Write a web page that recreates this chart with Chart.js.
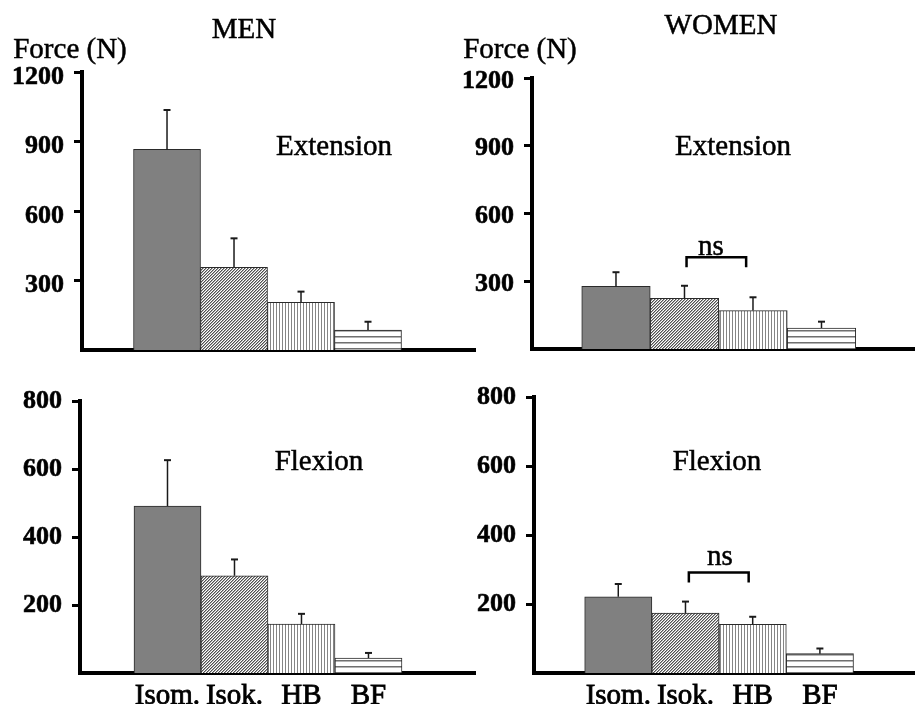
<!DOCTYPE html>
<html><head><meta charset="utf-8">
<script src="https://cdn.jsdelivr.net/npm/chart.js@4"></script>
<style>
html,body{margin:0;padding:0;background:#fff;}
#wrap{position:relative;width:915px;height:704px;overflow:hidden;background:#fff;}
canvas{position:absolute;left:0;top:0;}
.t{position:absolute;font-family:'Liberation Serif',serif;font-size:29px;color:#000;-webkit-text-stroke:0.5px #000;line-height:1;white-space:nowrap;transform:translate(-50%,-50%);}
</style></head><body>
<div id="wrap">
<canvas id="c0" width="915" height="704"></canvas>
<canvas id="c1" width="915" height="704"></canvas>
<canvas id="c2" width="915" height="704"></canvas>
<canvas id="c3" width="915" height="704"></canvas>
<div class="t" style="left:244px;top:28px">MEN</div>
<div class="t" style="left:721px;top:24px">WOMEN</div>
<div class="t" style="left:70px;top:48px">Force (N)</div>
<div class="t" style="left:520px;top:48px">Force (N)</div>
<div class="t" style="left:334px;top:145px">Extension</div>
<div class="t" style="left:733px;top:145px">Extension</div>
<div class="t" style="left:319px;top:460px">Flexion</div>
<div class="t" style="left:717px;top:460px">Flexion</div>
<div class="t" style="left:711px;top:245px">ns</div>
<div class="t" style="left:720px;top:555px">ns</div>
</div>
<script>
const categories = ['Isom.', 'Isok.', 'HB', 'BF'];
const extensionTicks = [300, 600, 900, 1200];
const flexionTicks = [200, 400, 600, 800];
const menExtension = [866, 357, 206, 86];
const menExtensionSD = [170, 125, 46, 36];
const womenExtension = [277, 224, 170, 93];
const womenExtensionSD = [63, 56, 59, 28];
const menFlexion = [491, 286, 144, 44];
const menFlexionSD = [135, 48, 30, 15];
const womenFlexion = [221, 174, 141, 56];
const womenFlexionSD = [37, 33, 22, 15];
const nsWomenExtension = [1.03, 1.9, 406];
const nsWomenFlexion = [1.05, 1.94, 291];

function makePattern(w, h, draw) {
  const c = document.createElement('canvas');
  c.width = w; c.height = h;
  const x = c.getContext('2d');
  x.fillStyle = '#fff'; x.fillRect(0, 0, w, h);
  draw(x);
  return x.createPattern(c, 'repeat');
}
const isokFill = makePattern(3, 3, x => {
  x.fillStyle = '#505050';
  x.fillRect(0, 2, 1, 1); x.fillRect(1, 1, 1, 1); x.fillRect(2, 0, 1, 1);
  x.fillStyle = '#a8a8a8';
  x.fillRect(1, 2, 1, 1); x.fillRect(2, 1, 1, 1); x.fillRect(0, 0, 1, 1);
});
const hbFill = makePattern(3, 1, x => { x.fillStyle = '#858585'; x.fillRect(0, 0, 1, 1); });
const bfFill = makePattern(1, 6, x => {
  x.fillStyle = '#707070'; x.fillRect(0, 0, 1, 1);
  x.fillStyle = '#b4b4b4'; x.fillRect(0, 1, 1, 1);
});
const fills = ['#808080', isokFill, hbFill, bfFill];

const annotPlugin = {
  id: 'annot',
  afterDatasetsDraw(chart) {
    const ctx = chart.ctx;
    const ys = chart.scales.y, xs = chart.scales.x;
    const ds = chart.data.datasets[0];
    const meta = chart.getDatasetMeta(0);
    ctx.save();
    ctx.strokeStyle = '#1a1a1a';
    meta.data.forEach((bar, i) => {
      const v = ds.data[i].y;
      const top = ys.getPixelForValue(v + ds.errors[i]);
      ctx.lineWidth = 1.5;
      ctx.beginPath(); ctx.moveTo(bar.x, bar.y); ctx.lineTo(bar.x, top); ctx.stroke();
      ctx.lineWidth = 2;
      ctx.beginPath(); ctx.moveTo(bar.x - 3.5, top); ctx.lineTo(bar.x + 3.5, top); ctx.stroke();
    });
    const ns = ds.ns;
    if (ns) {
      const x1 = xs.getPixelForValue(ns[0]), x2 = xs.getPixelForValue(ns[1]);
      const yy = ys.getPixelForValue(ns[2]);
      ctx.strokeStyle = '#000';
      ctx.lineWidth = 2.5;
      ctx.beginPath();
      ctx.moveTo(x1, yy + 10); ctx.lineTo(x1, yy); ctx.lineTo(x2, yy); ctx.lineTo(x2, yy + 10);
      ctx.stroke();
    }
    ctx.restore();
  }
};

function makePanel(id, cfg) {
  const YW = 70, XH = cfg.showX ? 40 : 0;
  new Chart(document.getElementById(id), {
    type: 'bar',
    data: {
      datasets: [{
        data: cfg.values.map((v, i) => ({ x: i, y: v })),
        errors: cfg.errors,
        ns: cfg.ns,
        backgroundColor: fills,
        borderColor: '#2a2a2a',
        borderWidth: 1,
        categoryPercentage: 1,
        barPercentage: 1
      }]
    },
    options: {
      responsive: false, animation: false, devicePixelRatio: 1, events: [],
      layout: { padding: { left: cfg.L - YW, right: 915 - cfg.R, top: cfg.T, bottom: 704 - cfg.B - XH } },
      plugins: { legend: { display: false }, tooltip: { enabled: false } },
      scales: {
        x: {
          type: 'linear', min: cfg.xmin, max: cfg.xmax, offset: false, z: 1,
          grid: { display: false, offset: false, drawTicks: false },
          border: { display: true, color: '#000', width: 4 },
          afterBuildTicks: s => { s.ticks = categories.map((_, i) => ({ value: i })); },
          afterFit: s => { s.height = XH; },
          ticks: {
            display: cfg.showX, autoSkip: false, maxRotation: 0, minRotation: 0, padding: 6,
            color: '#000', font: { family: 'Liberation Serif', size: 29 },
            textStrokeColor: '#000', textStrokeWidth: 0.8,
            callback: v => categories[v]
          }
        },
        y: {
          type: 'linear', min: 0, max: cfg.ticks[cfg.ticks.length - 1], z: 1,
          grid: { display: true, drawOnChartArea: false, drawTicks: true, tickLength: 8, lineWidth: 3, color: '#000' },
          border: { display: true, color: '#000', width: 4 },
          afterBuildTicks: s => { s.ticks = cfg.ticks.map(v => ({ value: v })); },
          afterFit: s => { s.width = YW; },
          ticks: {
            padding: 10, labelOffset: cfg.labelOffset, color: '#000',
            font: { family: 'Liberation Serif', size: 26, weight: 'bold' },
            textStrokeColor: '#000', textStrokeWidth: 0.6,
            callback: v => String(v)
          }
        }
      }
    },
    plugins: [annotPlugin]
  });
}

makePanel('c0', { values: menExtension, errors: menExtensionSD, ticks: extensionTicks, showX: false, labelOffset: 5,
  L: 82, R: 475, T: 72, B: 350, xmin: -1.269, xmax: 4.597 });
makePanel('c1', { values: womenExtension, errors: womenExtensionSD, ticks: extensionTicks, showX: false, labelOffset: 3, ns: nsWomenExtension,
  L: 532, R: 915, T: 78, B: 349, xmin: -1.226, xmax: 4.365 });
makePanel('c2', { values: menFlexion, errors: menFlexionSD, ticks: flexionTicks, showX: true, labelOffset: 0,
  L: 80, R: 475, T: 401, B: 673, xmin: -1.306, xmax: 4.59 });
makePanel('c3', { values: womenFlexion, errors: womenFlexionSD, ticks: flexionTicks, showX: true, labelOffset: 0, ns: nsWomenFlexion,
  L: 534, R: 915, T: 397, B: 673, xmin: -1.254, xmax: 4.415 });
</script>
</body></html>
